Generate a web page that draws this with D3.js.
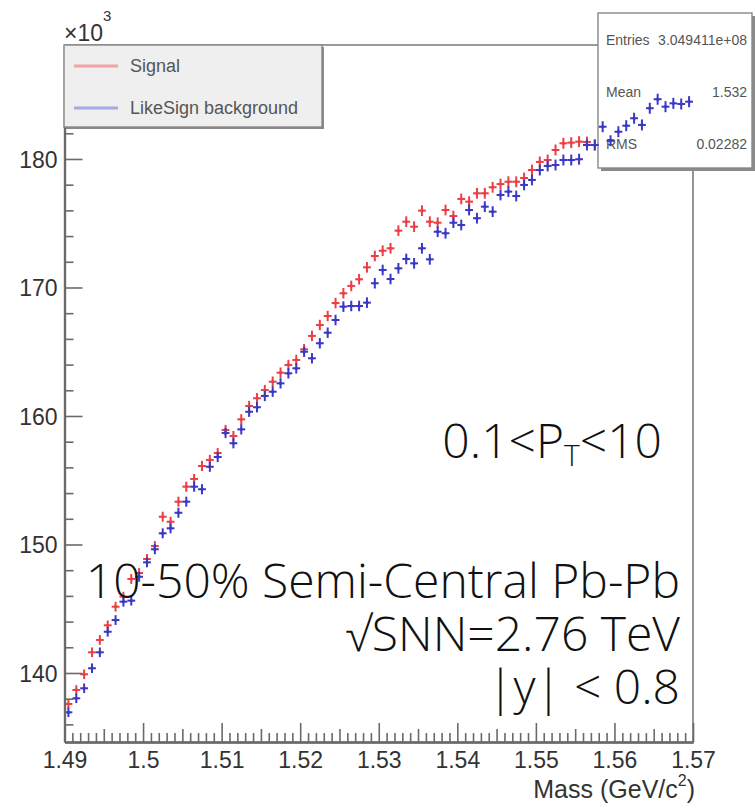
<!DOCTYPE html>
<html>
<head>
<meta charset="utf-8">
<script src="https://cdn.jsdelivr.net/npm/d3@7"></script>
<style>
  html, body { margin: 0; padding: 0; background: #fff; }
  svg { display: block; }
</style>
</head>
<body>
<svg id="chart" width="755" height="808"></svg>
<script>
// Invariant-mass spectrum, 80 bins of 0.001 GeV/c^2 from 1.49 to 1.57 (counts in units of 10^3)
const binLow = 1.49;
const binWidth = 0.001;
const signalCounts = [
  137.59, 138.68, 139.90, 141.61, 142.57, 143.71, 145.16, 145.94, 147.32, 147.78,
  148.87, 149.88, 152.16, 151.77, 153.33, 154.50, 155.10, 156.11, 156.58, 157.12,
  158.91, 158.44, 159.74, 160.78, 161.38, 162.02, 162.67, 163.37, 163.97, 164.36,
  165.19, 166.23, 167.08, 167.78, 168.79, 169.55, 170.12, 170.64, 171.57, 172.45,
  172.86, 173.05, 174.42, 175.12, 174.73, 175.98, 175.12, 175.04, 176.03, 175.56,
  176.89, 176.68, 177.33, 177.33, 177.80, 178.05, 178.23, 178.23, 178.52, 179.14,
  179.77, 179.92, 180.70, 181.22, 181.27, 181.35, 181.32, 181.09, 182.60, 181.90,
  182.50, 182.90, 183.40, 183.10, 184.30, 184.90, 184.50, 184.70, 184.70, 184.90
];
const likeSignCounts = [
  136.94, 138.03, 138.81, 140.37, 141.61, 143.21, 144.12, 145.55, 145.63, 147.49,
  148.61, 149.63, 150.87, 151.26, 152.47, 153.33, 154.50, 154.30, 156.05, 156.81,
  158.68, 157.88, 158.96, 160.33, 160.68, 161.56, 161.89, 162.54, 163.32, 163.71,
  165.00, 164.49, 165.66, 166.48, 167.47, 168.51, 168.56, 168.56, 168.82, 170.33,
  171.36, 170.66, 171.49, 172.22, 171.88, 173.05, 172.19, 174.34, 174.22, 175.04,
  174.86, 176.03, 175.39, 176.29, 175.90, 177.20, 177.46, 177.12, 177.98, 178.37,
  179.14, 179.46, 179.53, 179.92, 179.92, 179.98, 181.09, 181.09, 182.51, 181.42,
  182.12, 182.59, 183.17, 182.65, 183.95, 184.65, 184.07, 184.33, 184.28, 184.46
];
const legendLabels = ["Signal", "LikeSign background"];
const xTickValues = [1.49, 1.50, 1.51, 1.52, 1.53, 1.54, 1.55, 1.56, 1.57];
const xTickLabels = ["1.49", "1.5", "1.51", "1.52", "1.53", "1.54", "1.55", "1.56", "1.57"];
const yTickValues = [140, 150, 160, 170, 180];
const yTickLabels = ["140", "150", "160", "170", "180"];
const statNames = ["Entries", "Mean", "RMS"];
const statValues = ["3.049411e+08", "1.532", "0.02282"];

const svg = d3.select("#chart");
const frameL = 64.5, frameR = 693, frameT = 45, frameB = 742;
const x = d3.scaleLinear().domain([1.49, 1.57]).range([frameL, frameR]);
const y = d3.scaleLinear().domain([134.63, 188.87]).range([frameB, frameT]);

const axisFont = "'Liberation Sans', Arial, Helvetica, sans-serif";
const axisColor = "#6a6a6a";
const textColor = "#333";

// frame (top and right edges)
svg.append("path")
  .attr("d", `M${frameL},${frameT}H${frameR}V${frameB}`)
  .attr("fill", "none").attr("stroke", "#7a7a7a").attr("stroke-width", 1.6);

// error-bar crosses for one histogram
function drawHist(counts, color, cls) {
  const bins = counts.map((v, i) => ({
    lo: binLow + i * binWidth,
    hi: binLow + (i + 1) * binWidth,
    c: binLow + (i + 0.5) * binWidth,
    v: v,
    e: Math.sqrt(v * 1000) / 1000
  }));
  const g = svg.append("g").attr("class", cls)
    .attr("stroke", color).attr("stroke-width", 2).attr("fill", color);
  g.selectAll("path.h").data(bins).join("path").attr("class", "h")
    .attr("d", d => `M${x(d.lo)},${y(d.v)}H${x(d.hi)}`);
  g.selectAll("path.v").data(bins).join("path").attr("class", "v")
    .attr("d", d => `M${x(d.c)},${y(d.v + d.e)}V${y(d.v - d.e)}`);
  g.selectAll("circle").data(bins).join("circle")
    .attr("cx", d => x(d.c)).attr("cy", d => y(d.v)).attr("r", 1.6).attr("stroke", "none");
}

// signal is drawn first, the statistics box covers it, the like-sign histogram goes on top
drawHist(signalCounts, "#ec3f45", "signal");

// statistics box
const stats = svg.append("g");
stats.append("rect").attr("x", 601).attr("y", 16).attr("width", 154).attr("height", 155).attr("fill", "#8a8a8a");
stats.append("rect").attr("x", 598).attr("y", 13).attr("width", 154).attr("height", 155)
  .attr("fill", "#fff").attr("stroke", "#888").attr("stroke-width", 1.4);
const statY = [45, 97, 149];
statNames.forEach((n, i) => {
  stats.append("text").attr("x", 606).attr("y", statY[i]).text(n)
    .attr("font-family", axisFont).attr("font-size", 14).attr("fill", "#555");
  stats.append("text").attr("x", 747).attr("y", statY[i]).text(statValues[i])
    .attr("text-anchor", "end")
    .attr("font-family", axisFont).attr("font-size", 14).attr("fill", "#555");
});

drawHist(likeSignCounts, "#3a38c4", "likesign");

// axes with inward ticks
function styleAxis(g) {
  g.select(".domain").attr("stroke", axisColor).attr("stroke-width", 2.2);
  g.selectAll(".tick line").attr("stroke", axisColor).attr("stroke-width", 1.6);
  g.selectAll(".tick text").attr("fill", textColor).attr("font-family", axisFont).attr("font-size", 23);
}

const yMinor = d3.range(136, 189, 2).filter(v => v % 10 !== 0);
svg.append("g").attr("transform", `translate(${frameL},0)`)
  .call(d3.axisLeft(y).tickValues(yMinor).tickSizeInner(-9).tickSizeOuter(0).tickFormat(""))
  .call(styleAxis);
svg.append("g").attr("transform", `translate(${frameL},0)`)
  .call(d3.axisLeft(y).tickValues(yTickValues).tickSizeInner(-18).tickSizeOuter(0).tickPadding(7)
    .tickFormat((d, i) => yTickLabels[i]))
  .call(styleAxis)
  .call(g => g.selectAll(".tick text").attr("dy", "0.36em"));

const xMid = d3.range(0, 81).filter(i => i % 10 === 5).map(i => 1.49 + i * 0.001);
const xSmall = d3.range(0, 81).filter(i => i % 5 !== 0).map(i => 1.49 + i * 0.001);
svg.append("g").attr("transform", `translate(0,${frameB})`)
  .call(d3.axisBottom(x).tickValues(xSmall).tickSizeInner(-9).tickSizeOuter(0).tickFormat(""))
  .call(styleAxis);
svg.append("g").attr("transform", `translate(0,${frameB})`)
  .call(d3.axisBottom(x).tickValues(xMid).tickSizeInner(-13).tickSizeOuter(0).tickFormat(""))
  .call(styleAxis);
svg.append("g").attr("transform", `translate(0,${frameB})`)
  .call(d3.axisBottom(x).tickValues(xTickValues).tickSizeInner(-19).tickSizeOuter(0).tickPadding(10)
    .tickFormat((d, i) => xTickLabels[i]))
  .call(styleAxis)
  .call(g => g.selectAll(".tick text").attr("dy", "0.71em"));

// axis title
const xt = svg.append("text").attr("x", 695).attr("y", 798).attr("text-anchor", "end")
  .attr("font-family", axisFont).attr("font-size", 25).attr("fill", textColor);
xt.append("tspan").text("Mass (GeV/c");
xt.append("tspan").attr("dy", -12).attr("font-size", 16).text("2");
xt.append("tspan").attr("dy", 12).text(")");

// exponent label
const ex = svg.append("text").attr("x", 64).attr("y", 41)
  .attr("font-family", axisFont).attr("font-size", 23).attr("fill", textColor);
ex.append("tspan").text("\u00d710");
ex.append("tspan").attr("dy", -20).attr("font-size", 15).text("3");

// legend
const lg = svg.append("g");
lg.append("rect").attr("x", 66).attr("y", 47).attr("width", 258).attr("height", 82).attr("fill", "#8a8a8a");
lg.append("rect").attr("x", 64).attr("y", 45).attr("width", 258).attr("height", 82)
  .attr("fill", "#efefef").attr("stroke", "#888").attr("stroke-width", 1.4);
const legendColors = ["#f3a2a8", "#a8a8e2"];
legendLabels.forEach((t, i) => {
  const ly = 66 + i * 42;
  lg.append("line").attr("x1", 74).attr("x2", 118).attr("y1", ly).attr("y2", ly)
    .attr("stroke", legendColors[i]).attr("stroke-width", 3);
  lg.append("text").attr("x", 130).attr("y", ly + 6).text(t)
    .attr("font-family", axisFont).attr("font-size", 18).attr("fill", "#555");
});

// annotations
const annFont = "'Open Sans', 'Helvetica Neue', Roboto, sans-serif";
function ann(xp, yp) {
  return svg.append("text").attr("x", xp).attr("y", yp).attr("text-anchor", "end")
    .attr("font-family", annFont).attr("font-weight", 300).attr("font-size", 48).attr("fill", "#111");
}
const pt = ann(662, 458);
pt.append("tspan").text("0.1<P");
pt.append("tspan").attr("dy", 8).attr("font-size", 30).text("T");
pt.append("tspan").attr("dy", -8).text("<10");
ann(680, 598).text("10-50% Semi-Central Pb-Pb");
ann(680, 651).text("\u221aSNN=2.76 TeV");
ann(680, 704).text("|y| < 0.8");
</script>
</body>
</html>
